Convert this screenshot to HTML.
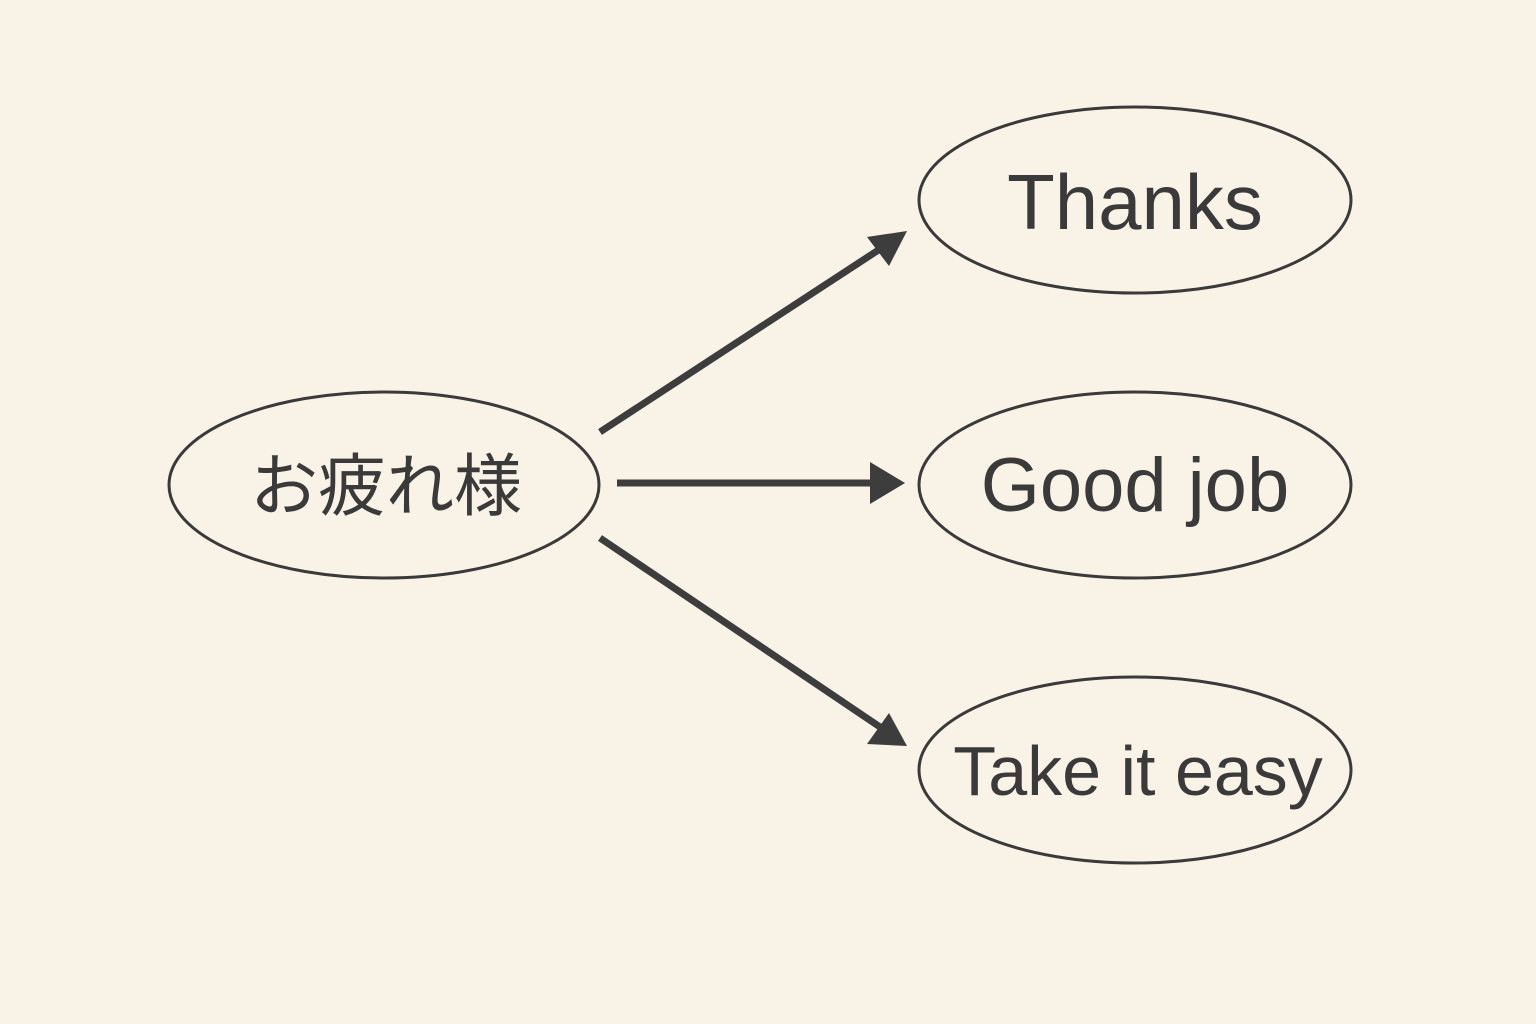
<!DOCTYPE html>
<html><head><meta charset="utf-8"><style>
html,body{margin:0;padding:0;background:#f9f2e6;}
svg{display:block;}
text{font-family:"Liberation Sans","Noto Sans CJK JP",sans-serif;fill:#3a3a3a;}
</style></head><body>
<svg width="1536" height="1024" viewBox="0 0 1536 1024" xmlns="http://www.w3.org/2000/svg">
<rect width="1536" height="1024" fill="#f9f2e6"/>
<g fill="none" stroke="#3a3a3a" stroke-width="3">
<ellipse cx="384" cy="485" rx="215" ry="93"/>
<ellipse cx="1135" cy="200" rx="216" ry="93"/>
<ellipse cx="1135" cy="485" rx="216" ry="93"/>
<ellipse cx="1135" cy="770" rx="216" ry="93"/>
</g>
<g stroke="#3d3d3d" stroke-width="7" fill="#3d3d3d">
<line x1="600" y1="432" x2="880" y2="249"/>
<line x1="617" y1="483" x2="872" y2="483"/>
<line x1="600" y1="538" x2="880" y2="727"/>
</g>
<g fill="#3d3d3d">
<polygon points="907,231 867,237 889,266"/>
<polygon points="905,483 870,462 870,504"/>
<polygon points="907,746 889,713 867,744"/>
</g>
<text x="386" y="510" font-size="68" text-anchor="middle">お疲れ様</text>
<text x="1135" y="229" font-size="78" text-anchor="middle">Thanks</text>
<text x="1135" y="511" font-size="76" text-anchor="middle">Good job</text>
<text x="1138" y="795" font-size="70" text-anchor="middle">Take it easy</text>
</svg>
</body></html>
